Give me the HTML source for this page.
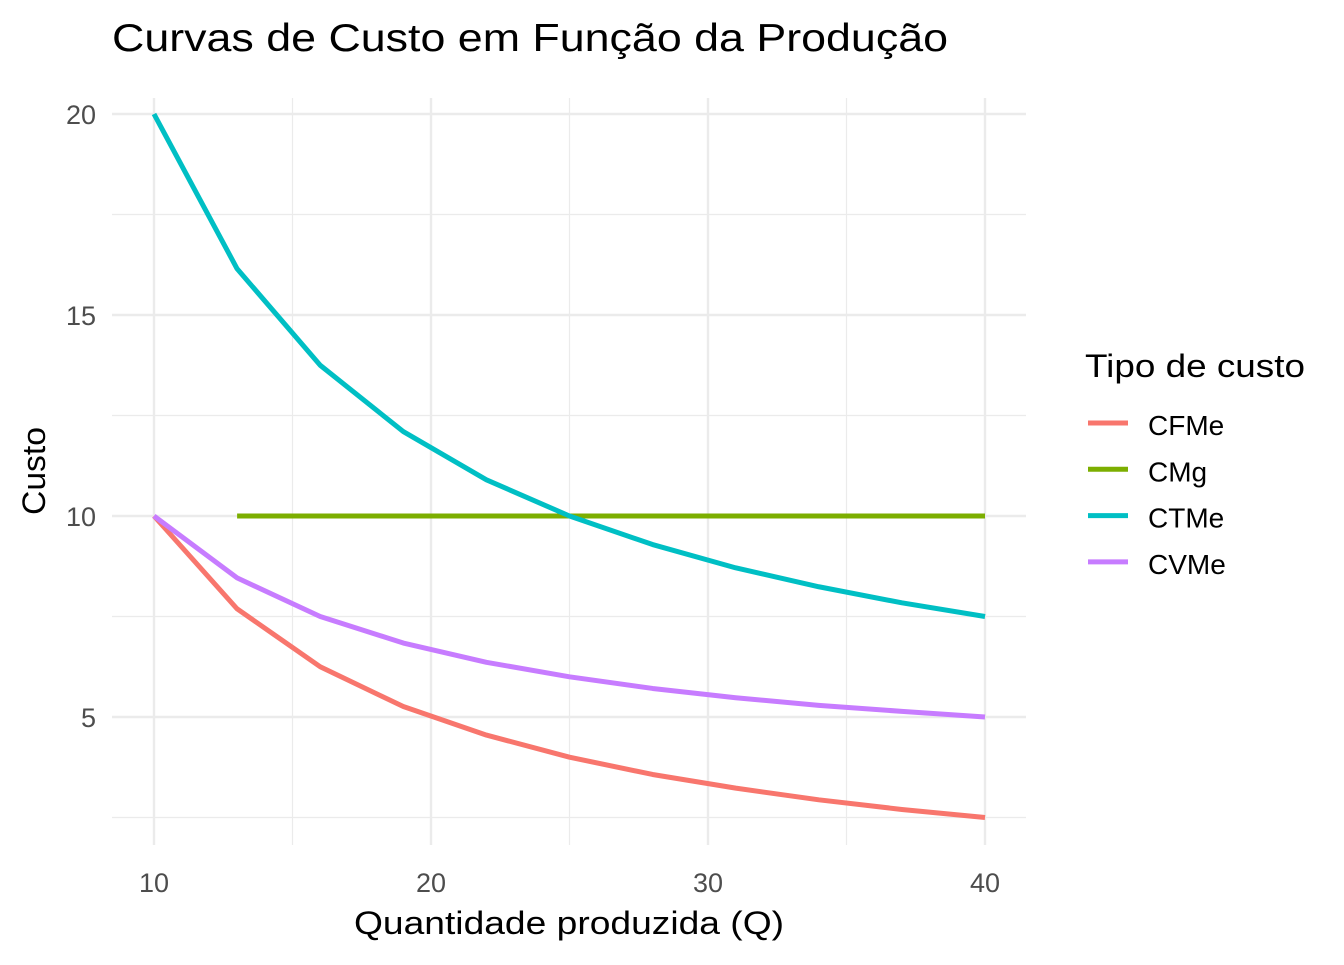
<!DOCTYPE html>
<html><head><meta charset="utf-8"><style>
body{margin:0;background:#fff;font-family:"Liberation Sans",sans-serif;}
</style></head><body>
<svg id="chart" width="1344" height="960" xmlns="http://www.w3.org/2000/svg" font-family="Liberation Sans, sans-serif">
<text x="112" y="51" font-size="39" fill="#000" textLength="836" lengthAdjust="spacingAndGlyphs">Curvas de Custo em Função da Produção</text>
<g id="grid"></g>
<g id="lines"></g>
<g id="ticks"></g>
<text x="569" y="934" font-size="32" text-anchor="middle" fill="#000" textLength="430" lengthAdjust="spacingAndGlyphs">Quantidade produzida (Q)</text>
<text transform="translate(45,471) rotate(-90)" font-size="32" text-anchor="middle" fill="#000" textLength="88" lengthAdjust="spacingAndGlyphs">Custo</text>
<g id="legend">
<text x="1085" y="377" font-size="32" fill="#000" textLength="220" lengthAdjust="spacingAndGlyphs">Tipo de custo</text>
</g>
</svg>
<script>
const quantities=[10,13,16,19,22,25,28,31,34,37,40];
const cfme=[10,7.69,6.25,5.26,4.55,4,3.57,3.23,2.94,2.70,2.5];
const cmg=[null,10,10,10,10,10,10,10,10,10,10];
const ctme=[20,16.15,13.75,12.1,10.9,10,9.29,8.71,8.24,7.84,7.5];
const cvme=[10,8.46,7.5,6.84,6.36,6,5.71,5.48,5.29,5.14,5];
const seriesNames=["CFMe","CMg","CTMe","CVMe"];
const seriesColors=["#F8766D","#7CAE00","#00BFC4","#C77CFF"];
const xTicks=[10,20,30,40];
const yTicks=[5,10,15,20];
const NS="http://www.w3.org/2000/svg";
const X0=112,X1=1026,Y0=98,Y1=845;
function xs(v){return 154+(v-10)*(985-154)/30;}
function ys(v){return 516-(v-10)*(516-114)/10;}
function mk(t,a,p){const e=document.createElementNS(NS,t);for(const k in a)e.setAttribute(k,a[k]);p.appendChild(e);return e;}
const grid=document.getElementById('grid');
[15,25,35].forEach(v=>{const l=mk('line',{x1:xs(v),x2:xs(v),y1:Y0,y2:Y1,stroke:'#ebebeb','stroke-width':1.2},grid);

});
[2.5,7.5,12.5,17.5].forEach(v=>{const l=mk('line',{x1:X0,x2:X1,y1:ys(v),y2:ys(v),stroke:'#ebebeb','stroke-width':1.2},grid);

});
const tk=document.getElementById('ticks');
xTicks.forEach(v=>{const l=mk('line',{x1:xs(v),x2:xs(v),y1:Y0,y2:Y1,stroke:'#ebebeb','stroke-width':2.4},grid);


const t=mk('text',{x:xs(v),y:892,'font-size':27,'text-anchor':'middle',fill:'#4d4d4d'},tk);t.textContent=v;

});
yTicks.forEach(v=>{const l=mk('line',{x1:X0,x2:X1,y1:ys(v),y2:ys(v),stroke:'#ebebeb','stroke-width':2.4},grid);


const t=mk('text',{x:96,y:ys(v)+10,'font-size':27,'text-anchor':'end',fill:'#4d4d4d'},tk);t.textContent=v;

});
const all=[cfme,cmg,ctme,cvme];
const lines=document.getElementById('lines');
all.forEach((s,i)=>{let d='';let start=true;
s.forEach((v,j)=>{if(v===null){start=true;return;}d+=(start?'M':'L')+xs(quantities[j])+','+ys(v)+' ';start=false;});
const p=mk('path',{d:d,fill:'none',stroke:seriesColors[i],'stroke-width':5,'stroke-linejoin':'round'},lines);

});
const lg=document.getElementById('legend');
seriesNames.forEach((n,i)=>{const y=423+i*46.3;
const l=mk('line',{x1:1088,x2:1128,y1:y,y2:y,stroke:seriesColors[i],'stroke-width':5},lg);


const t=mk('text',{x:1148,y:y+12,'font-size':28,fill:'#000'},lg);t.textContent=n;

});
</script>
</body></html>
